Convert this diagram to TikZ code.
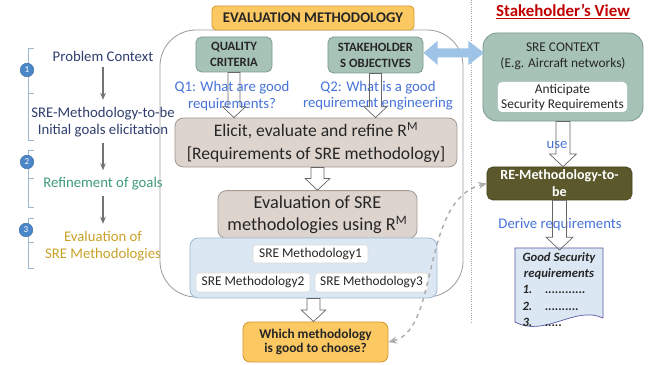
\documentclass[tikz,border=0pt]{standalone}
\usepackage{fontspec}
\setmainfont{Carlito}
\usetikzlibrary{arrows.meta,calc}

\definecolor{navytext}{HTML}{2F3E6E}
\definecolor{greentext}{HTML}{3F9A78}
\definecolor{goldtext}{HTML}{C9A227}
\definecolor{qblue}{HTML}{4673D9}
\definecolor{tealfill}{HTML}{A7C3B7}
\definecolor{tealline}{HTML}{7C9B8E}
\definecolor{orangefill}{HTML}{FBC862}
\definecolor{orangeline}{HTML}{D49A32}
\definecolor{taupefill}{HTML}{DDD4CE}
\definecolor{taupeline}{HTML}{A39B96}
\definecolor{paleblue}{HTML}{DBE7F3}
\definecolor{palebluel}{HTML}{A3BCD5}
\definecolor{olivefill}{HTML}{5B582B}
\definecolor{arrowblue}{HTML}{9DC3E6}
\definecolor{bracketblue}{HTML}{9FB6CF}
\definecolor{numblue}{HTML}{4A86C8}
\definecolor{viewred}{HTML}{C00000}

\newcommand{\blockarrow}[3][4.3pt]{%
  \draw[hollowarrow] let \p1=(#2), \p2=(#3) in
    (\x1-#1,\y1) -- (\x1-#1,\y2+1.8*#1) -- (\x1-1.9*#1,\y2+1.8*#1) -- (\x1,\y2)
    -- (\x1+1.9*#1,\y2+1.8*#1) -- (\x1+#1,\y2+1.8*#1) -- (\x1+#1,\y1) -- cycle;}

\begin{document}
\begin{tikzpicture}[x=0.025cm, y=-0.025cm,
  lefttext/.style={align=center, inner sep=0pt, font=\fontsize{10.5}{12}\selectfont},
  grayarrow/.style={-{Stealth[length=5pt,width=4pt]}, line width=1.3pt, draw=gray!90!black, shorten <=4pt, shorten >=5pt},
  bracket/.style={draw=bracketblue, line width=0.6pt},
  numdot/.style={circle, fill=numblue, draw=numblue!80!black, line width=0.3pt, text=white, inner sep=0pt, minimum size=0.34cm, font=\fontsize{6.5}{7}\selectfont},
  headbox/.style={draw=orangeline, fill=orangefill, rounded corners=3pt, line width=0.6pt, text=black!85},
  tealbox/.style={draw=tealline, fill=tealfill, rounded corners=4pt, line width=0.6pt, align=center, text=black!85},
  qtext/.style={text=qblue, align=center, inner sep=0pt, font=\fontsize{10.5}{11.5}\selectfont},
  taupebox/.style={draw=taupeline, fill=taupefill, rounded corners=6pt, line width=0.6pt, align=center, font=\fontsize{13}{16}\selectfont, text=black!85},
  methbox/.style={draw=black!15, fill=white, rounded corners=2pt, inner sep=0pt, font=\fontsize{9.5}{11}\selectfont, text=black!85},
  hollowarrow/.style={draw=gray!80!black, line width=0.5pt},
  frameline/.style={draw=gray!75, line width=0.6pt, rounded corners=0.9cm},
  dashcurve/.style={{Stealth[length=6pt,width=5pt]}-{Stealth[length=6pt,width=5pt]}, draw=gray!65, dashed, line width=1pt},
  sepline/.style={draw=gray!70, densely dotted, line width=0.6pt}]

  \useasboundingbox (0,0) rectangle (652,365);

  \draw[bracket] (34,48) -- (28,48) -- (28,140) -- (34,140);
  \draw[bracket] (28,93) -- (34,93);
  \draw[bracket] (34,150) -- (28,150) -- (28,207) -- (34,207);
  \draw[bracket] (28,178) -- (34,178);
  \draw[bracket] (34,218) -- (28,218) -- (28,268) -- (34,268);
  \draw[bracket] (28,242) -- (34,242);
  \node[numdot] (n1) at (27,70) {1};
  \node[numdot] (n2) at (27,162) {2};
  \node[numdot] (n3) at (26,230) {3};

  \node[lefttext, text=navytext] (pc) at (103,56) {Problem Context};
  \node[lefttext, text=navytext] (init) at (103,122) {SRE-Methodology-to-be\\Initial goals elicitation};
  \node[lefttext, text=greentext] (refine) at (103,184) {Refinement of goals};
  \node[lefttext, text=goldtext] (evalsre) at (103,246) {Evaluation of\\SRE Methodologies};
  \draw[grayarrow] (pc) -- (init);
  \draw[grayarrow] (init) -- (refine);
  \draw[grayarrow] (refine) -- (evalsre);

  \draw[sepline] (471,0) -- (471,323);
  \draw[frameline] (160,30) rectangle (463,297);

  \node[headbox, minimum width=5.05cm, minimum height=0.6cm, font=\fontsize{10.5}{12}\bfseries\selectfont] (title) at (313,18) {EVALUATION METHODOLOGY};
  \node[tealbox, minimum width=1.9cm, minimum height=0.875cm, font=\fontsize{9}{11.5}\bfseries\selectfont] (qc) at (234,54.5) {QUALITY\\CRITERIA};
  \node[tealbox, minimum width=2.375cm, minimum height=0.9cm, font=\fontsize{9}{11.5}\bfseries\selectfont] (so) at (375.5,55) {STAKEHOLDER\\S OBJECTIVES};
  \node[qtext] (q1) at (232,96) {Q1: What are good\\requirements?};
  \node[qtext] (q2) at (378,96) {Q2: What is a good\\requirement engineering};

  \node[taupebox, minimum width=7.05cm, minimum height=1.225cm, font=\fontsize{12.5}{16}\selectfont] (elicit) at (316,142.5) {Elicit, evaluate and refine R\textsuperscript{M}\\{[}Requirements of SRE methodology{]}};
  \node[taupebox, minimum width=4.975cm, minimum height=1.125cm] (evalm) at (317.5,214.5) {Evaluation of SRE\\methodologies using R\textsuperscript{M}};

  \node[draw=palebluel, fill=paleblue, rounded corners=6pt, line width=0.6pt, minimum width=6.175cm, minimum height=1.5cm] (cont) at (313.5,268) {};
  \node[methbox, minimum width=2.875cm, minimum height=0.45cm] (m1) at (310.5,254) {SRE Methodology1};
  \node[methbox, minimum width=2.85cm, minimum height=0.475cm] (m2) at (253,282.5) {SRE Methodology2};
  \node[methbox, minimum width=2.825cm, minimum height=0.475cm] (m3) at (371.5,282.5) {SRE Methodology3};

  \node[headbox, rounded corners=5pt, align=center, minimum width=3.625cm, minimum height=1cm, font=\fontsize{9.5}{10.5}\bfseries\selectfont] (which) at (315.5,342) {Which methodology\\is good to choose?};

  \node[font=\fontsize{12}{14}\bfseries\selectfont, text=viewred] (view) at (563,12) {\underline{Stakeholder’s View}};
  \node[tealbox, rounded corners=10pt, minimum width=4cm, minimum height=2.2cm] (ctx) at (563,77) {};
  \node[align=center, inner sep=0pt, text=black!85, font=\fontsize{9.5}{11.5}\selectfont] (ctxlabel) at (563,56) {SRE CONTEXT\\(E.g. Aircraft networks)};
  \node[fill=white, rounded corners=3pt, align=center, inner sep=0pt, text=black!85, minimum width=3.225cm, minimum height=0.75cm, font=\fontsize{9.5}{10.7}\selectfont] (antic) at (562.5,97) {Anticipate\\Security Requirements};

  \node[fill=olivefill, draw=olivefill!80!black, rounded corners=4pt, align=center, text=white, inner sep=0pt, minimum width=3.625cm, minimum height=0.825cm, font=\fontsize{10}{12}\bfseries\selectfont] (remeth) at (559.5,183.5) {RE-Methodology-to-\\be};
  \node[qtext] (use) at (557,145) {use};
  \node[qtext] (derive) at (560,225) {Derive requirements};

  \draw[draw=gray!70!blue, fill=paleblue, line width=0.5pt] (515,248) -- (603,248) -- (603,318) .. controls (575,305) and (545,338) .. (515,322) -- cycle;
  \node[anchor=north, inner sep=0pt, text=black!85, font=\fontsize{9}{11.5}\bfseries\itshape\selectfont] (doc) at (559,250) {\begin{tabular}{@{}l@{}}\multicolumn{1}{@{}c@{}}{Good Security}\\ \multicolumn{1}{@{}c@{}}{requirements}\\ 1.\quad ............\\ 2.\quad ..........\\ 3.\quad .....\end{tabular}};

  \blockarrow{qc.south}{elicit.north}
  \blockarrow{so.south}{elicit.north}
  \blockarrow[4.6pt]{evalm.north |- elicit.south}{evalm.north}
  \blockarrow[4.6pt]{cont.south}{which.north}
  \blockarrow[5pt]{ctx.south}{remeth.north}
  \blockarrow[5pt]{remeth.south}{doc.north}

  \fill[arrowblue] let \p1=(so.east), \p2=(ctx.west) in
    (\x1,\y1+1.5pt) -- (\x1+10pt,\y1+10pt) -- (\x1+10pt,\y1+4.7pt) -- (\x2-10pt,\y1+4.7pt)
    -- (\x2-10pt,\y1+10pt) -- (\x2+1pt,\y1+1.5pt) -- (\x2-10pt,\y1-7pt) -- (\x2-10pt,\y1-1.7pt)
    -- (\x1+10pt,\y1-1.7pt) -- (\x1+10pt,\y1-7pt) -- cycle;

  \draw[dashcurve] (which.east) .. controls (440,330) and (420,200) .. (remeth.west);
\end{tikzpicture}
\end{document}
